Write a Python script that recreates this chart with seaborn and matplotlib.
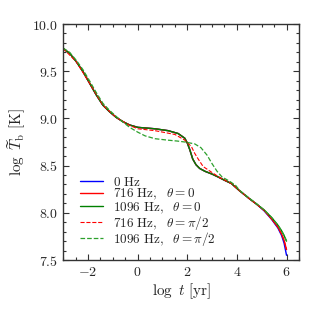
import seaborn as sns
import matplotlib
matplotlib.use("Agg")
import matplotlib.pyplot as plt
from matplotlib.ticker import MultipleLocator, FuncFormatter
import pandas as pd

# common cooling curve (log t, log T)
t_base = [-3.0, -2.74, -2.47, -2.20, -1.93, -1.67, -1.40, -1.13, -0.86, -0.59, -0.32,
          0.01, 0.70, 1.23, 1.63, 1.90, 2.00, 2.10, 2.22, 2.35, 2.50, 2.71, 3.00,
          3.24, 3.50, 3.78, 4.10, 4.50, 4.80]
T_base = [9.74, 9.69, 9.60, 9.495, 9.37, 9.25, 9.14, 9.07, 9.01, 8.965, 8.93,
          8.905, 8.89, 8.87, 8.84, 8.79, 8.74, 8.67, 8.57, 8.51, 8.47, 8.44, 8.41,
          8.38, 8.345, 8.31, 8.235, 8.15, 8.09]

# late-time tails (they split apart near the end)
t_tail = [5.1, 5.4, 5.65, 5.8, 5.9, 6.0]
T_tail_0 = [8.02, 7.93, 7.84, 7.76, 7.68, 7.55]
T_tail_716 = [8.025, 7.935, 7.85, 7.775, 7.71, 7.61]
T_tail_1096 = [8.03, 7.95, 7.87, 7.81, 7.76, 7.70]

# 716 Hz, theta = pi/2
t_716p = [-3.0, -2.47, -1.93, -1.40, -0.86, -0.32, 0.01, 0.70, 1.50, 1.90, 2.17,
          2.30, 2.44, 2.64, 2.98, 3.30, 3.78, 4.10, 4.50, 4.80]
T_716p = [9.74, 9.60, 9.37, 9.14, 9.01, 8.925, 8.89, 8.87, 8.83, 8.77, 8.70,
          8.63, 8.57, 8.49, 8.43, 8.375, 8.31, 8.235, 8.15, 8.09]

# 1096 Hz, theta = pi/2
t_1096p = [-3.0, -2.74, -2.47, -2.20, -1.93, -1.67, -1.40, -1.13, -0.86, -0.59,
           -0.32, 0.0, 0.30, 0.70, 1.20, 1.60, 1.90, 2.30, 2.55, 2.80, 3.00, 3.20,
           3.40, 3.70, 3.95, 4.10, 4.50, 4.80]
T_1096p = [9.745, 9.70, 9.615, 9.515, 9.395, 9.275, 9.16, 9.085, 9.02, 8.96,
           8.905, 8.855, 8.815, 8.785, 8.77, 8.76, 8.75, 8.73, 8.69, 8.61, 8.52, 8.44,
           8.38, 8.335, 8.29, 8.24, 8.155, 8.095]

labels = [r"$\mathrm{0\ Hz}$",
          r"$\mathrm{716\ Hz},\ \ \theta=0$",
          r"$\mathrm{1096\ Hz},\ \ \theta=0$",
          r"$\mathrm{716\ Hz},\ \ \theta=\pi/2$",
          r"$\mathrm{1096\ Hz},\ \ \theta=\pi/2$"]

series = [
    (t_base + t_tail, T_base + T_tail_0, "blue", "-", 1.0),
    (t_base + t_tail, T_base + T_tail_716, "red", "-", 1.0),
    (t_base + t_tail, T_base + T_tail_1096, "green", "-", 1.0),
    (t_716p + t_tail, T_716p + T_tail_716, "red", "--", 0.8),
    (t_1096p + t_tail, T_1096p + T_tail_1096, "#2ca02c", "--", 0.9),
]

sns.set_style("ticks")
plt.rcParams["font.family"] = ["DejaVu Serif"]
plt.rcParams["mathtext.fontset"] = "cm"

fig = plt.figure(figsize=(3.15, 3.15), dpi=100)
ax = fig.add_axes([0.2006, 0.1746, 0.7484, 0.7492])

for (x, y, c, ls, lw), lab in zip(series, labels):
    df = pd.DataFrame({"logt": x, "logT": y})
    sns.lineplot(data=df, x="logt", y="logT", color=c, linestyle=ls, lw=lw,
                 label=lab, ax=ax, sort=False)

ax.set_xlim(-3, 6.5)
ax.set_ylim(7.5, 10.0)
ax.xaxis.set_major_locator(MultipleLocator(2))
ax.xaxis.set_minor_locator(MultipleLocator(0.5))
ax.yaxis.set_major_locator(MultipleLocator(0.5))
ax.yaxis.set_minor_locator(MultipleLocator(0.1))
ax.xaxis.set_major_formatter(FuncFormatter(lambda v, p: r"$%g$" % v))
ax.yaxis.set_major_formatter(FuncFormatter(lambda v, p: r"$%.1f$" % v))
ax.tick_params(which="both", direction="in", top=True, right=True,
               labelsize=10, width=0.8, color="#333333")
ax.tick_params(which="major", length=4)
ax.tick_params(which="minor", length=2)
for s in ax.spines.values():
    s.set_linewidth(1.0)
    s.set_color("#333333")

ax.set_xlabel(r"$\log\ t\ [\mathrm{yr}]$", fontsize=11, labelpad=2)
ax.set_ylabel(r"$\log\ \widetilde{T}_\mathrm{b}\ [\mathrm{K}]$", fontsize=11, labelpad=3)

ax.legend(loc="lower left", bbox_to_anchor=(0.02, 0.002), frameon=False,
          fontsize=9.5, labelspacing=-0.15, handlelength=1.75, handletextpad=0.8)

fig.savefig("out.png", dpi=100)
